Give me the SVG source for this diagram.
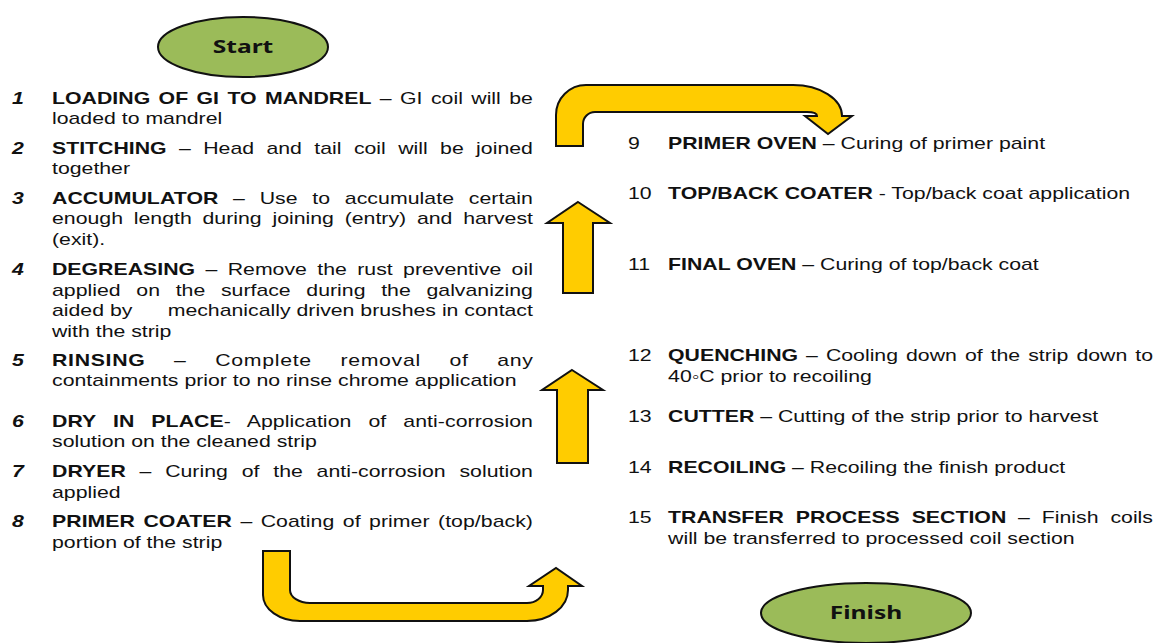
<svg xmlns="http://www.w3.org/2000/svg" width="1154" height="643" viewBox="0 0 1154 643">
<style>
.t{font-family:"Liberation Sans",Arial,sans-serif;font-size:16px;fill:#111}
.b{font-weight:bold}
.n{font-weight:bold;font-style:italic}
.e{font-family:"Noto Sans","Liberation Sans",sans-serif;font-weight:bold;font-size:18.5px;fill:#111}
.arrow{fill:#FFCC00;stroke:#111;stroke-width:2;stroke-linejoin:miter}
.oval{fill:#9BBB59;stroke:#111;stroke-width:2}
</style>
<rect width="1154" height="643" fill="#fff"/>
<g id="connectors">
<path class="arrow" d="M556 146 L556 115 A30 30 0 0 1 586 85 L793 85 A49 31 0 0 1 842 116 L852 116 L828 134 L805 116 L817 116 Q817 112 807 112 L595 112 A12 12 0 0 0 583 124 L583 146 Z"/>
<path class="arrow" d="M578 202 L610 223 L593 223 L593 293 L563 293 L563 223 L547 223 Z"/>
<path class="arrow" d="M572 370 L603 390 L588 390 L588 463 L557 463 L557 390 L542 390 Z"/>
<path class="arrow" d="M263 551 L290 551 L290 590 A20 13 0 0 0 310 603 L527 603 A16 13 0 0 0 543 590 L543 586 L529 586 L556 568 L582 586 L568 586 L568 590 A41 31 0 0 1 527 621 L300 621 A37 26 0 0 1 263 595 Z"/>
</g>
<g id="start">
<ellipse class="oval" cx="243" cy="47" rx="85" ry="30"/>
<text class="e" text-anchor="middle" transform="translate(243 53) scale(1.33 1)">Start</text>
</g>
<g id="finish">
<ellipse class="oval" cx="866" cy="613" rx="105" ry="30"/>
<text class="e" text-anchor="middle" transform="translate(866 619) scale(1.33 1)">Finish</text>
</g>
<g class="t" transform="scale(1.33 1)">
<g id="step1">
<text class="n" x="9" y="104">1</text>
<text x="39.1" y="104" word-spacing="1.85" textLength="361.6" lengthAdjust="spacing"><tspan class="b">LOADING OF GI TO MANDREL</tspan> – GI coil will be</text>
<text x="39.1" y="124">loaded to mandrel</text>
</g>
<g id="step2">
<text class="n" x="9" y="154">2</text>
<text x="39.1" y="154" word-spacing="4.85" textLength="361.6" lengthAdjust="spacing"><tspan class="b">STITCHING</tspan> – Head and tail coil will be joined</text>
<text x="39.1" y="174">together</text>
</g>
<g id="step3">
<text class="n" x="9" y="204">3</text>
<text x="39.1" y="204" word-spacing="6.53" textLength="361.6" lengthAdjust="spacing"><tspan class="b">ACCUMULATOR</tspan> – Use to accumulate certain</text>
<text x="39.1" y="224" word-spacing="3.65" textLength="361.6" lengthAdjust="spacing">enough length during joining (entry) and harvest</text>
<text x="39.1" y="245">(exit).</text>
</g>
<g id="step4">
<text class="n" x="9" y="275">4</text>
<text x="39.1" y="275" word-spacing="3.36" textLength="361.6" lengthAdjust="spacing"><tspan class="b">DEGREASING</tspan> – Remove the rust preventive oil</text>
<text x="39.1" y="296" word-spacing="7.35" textLength="361.6" lengthAdjust="spacing">applied on the surface during the galvanizing</text>
<text x="39.1" y="316">aided by</text>
<text x="400.7" y="316" text-anchor="end">mechanically driven brushes in contact</text>
<text x="39.1" y="337">with the strip</text>
</g>
<g id="step5">
<text class="n" x="9" y="366">5</text>
<text x="39.1" y="366" word-spacing="16.6" textLength="361.6" lengthAdjust="spacing"><tspan class="b">RINSING</tspan> – Complete removal of any</text>
<text x="39.1" y="386">containments prior to no rinse chrome application</text>
</g>
<g id="step6">
<text class="n" x="9" y="427">6</text>
<text x="39.1" y="427" word-spacing="8.3" textLength="361.6" lengthAdjust="spacing"><tspan class="b">DRY IN PLACE</tspan>- Application of anti-corrosion</text>
<text x="39.1" y="447">solution on the cleaned strip</text>
</g>
<g id="step7">
<text class="n" x="9" y="477">7</text>
<text x="39.1" y="477" word-spacing="5.88" textLength="361.6" lengthAdjust="spacing"><tspan class="b">DRYER</tspan> – Curing of the anti-corrosion solution</text>
<text x="39.1" y="498">applied</text>
</g>
<g id="step8">
<text class="n" x="9" y="527">8</text>
<text x="39.1" y="527" word-spacing="1.88" textLength="361.6" lengthAdjust="spacing"><tspan class="b">PRIMER COATER</tspan> – Coating of primer (top/back)</text>
<text x="39.1" y="548">portion of the strip</text>
</g>
<g id="step9">
<text x="472.2" y="149">9</text>
<text x="502.3" y="149"><tspan class="b">PRIMER OVEN</tspan> – Curing of primer paint</text>
</g>
<g id="step10">
<text x="472.2" y="199">10</text>
<text x="502.3" y="199"><tspan class="b">TOP/BACK COATER</tspan> - Top/back coat application</text>
</g>
<g id="step11">
<text x="472.2" y="270">11</text>
<text x="502.3" y="270"><tspan class="b">FINAL OVEN</tspan> – Curing of top/back coat</text>
</g>
<g id="step12">
<text x="472.2" y="361">12</text>
<text x="502.3" y="361" word-spacing="1.58" textLength="364.6" lengthAdjust="spacing"><tspan class="b">QUENCHING</tspan> – Cooling down of the strip down to</text>
<text x="502.3" y="382">40◦C prior to recoiling</text>
</g>
<g id="step13">
<text x="472.2" y="422">13</text>
<text x="502.3" y="422"><tspan class="b">CUTTER</tspan> – Cutting of the strip prior to harvest</text>
</g>
<g id="step14">
<text x="472.2" y="473">14</text>
<text x="502.3" y="473"><tspan class="b">RECOILING</tspan> – Recoiling the finish product</text>
</g>
<g id="step15">
<text x="472.2" y="523">15</text>
<text x="502.3" y="523" word-spacing="4.47" textLength="364.6" lengthAdjust="spacing"><tspan class="b">TRANSFER PROCESS SECTION</tspan> – Finish coils</text>
<text x="502.3" y="544">will be transferred to processed coil section</text>
</g>
</g>
</svg>
